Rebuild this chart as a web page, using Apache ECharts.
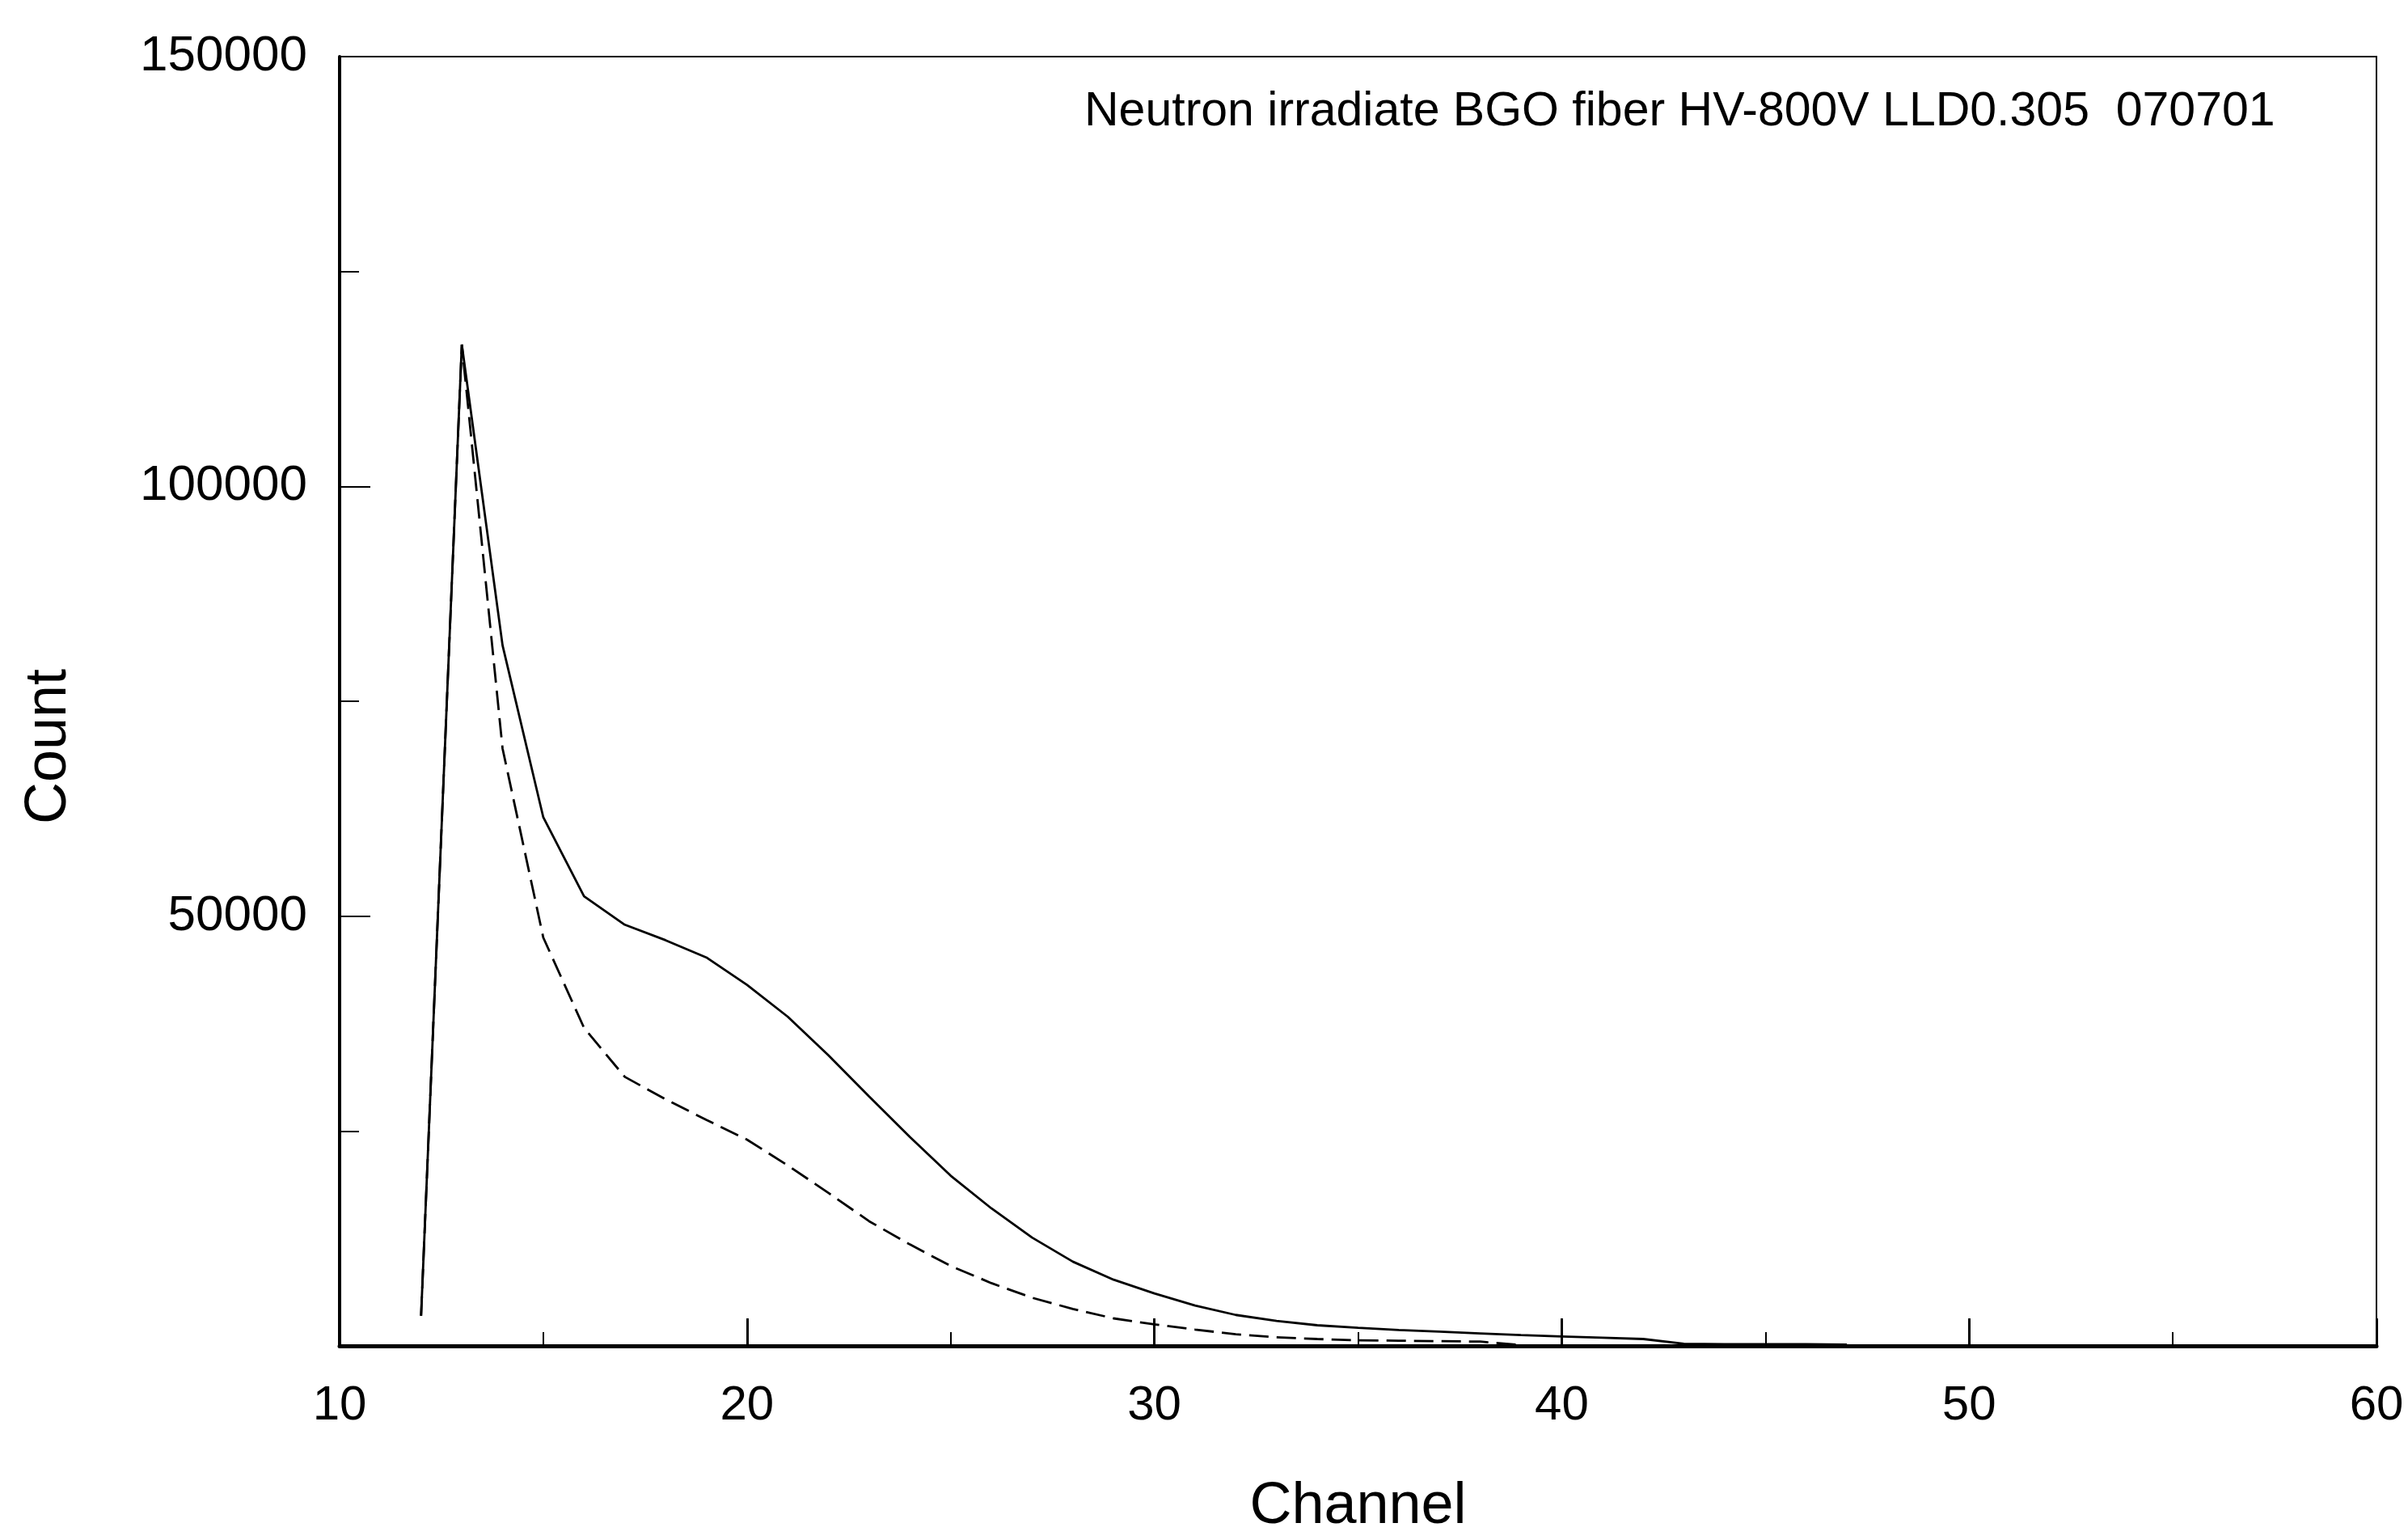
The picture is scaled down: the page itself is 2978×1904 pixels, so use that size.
<!DOCTYPE html>
<html>
<head>
<meta charset="utf-8">
<title>Neutron irradiate BGO fiber</title>
<script src="https://cdn.jsdelivr.net/npm/echarts@6/dist/echarts.min.js"></script>
<style>
  html, body { margin: 0; padding: 0; background: #fff; }
  #chart { width: 2978px; height: 1904px; }
</style>
</head>
<body>
<div id="chart"></div>
<script>
// values (channel -> count)
const channels = [12, 13, 14, 15, 16, 17, 18, 19, 20, 21, 22, 23, 24, 25, 26, 27, 28, 29,
  30, 31, 32, 33, 34, 35, 36, 37, 38, 39, 40, 41, 42, 43, 44, 45, 46, 47];
// solid curve (upper)
const countSolid = [3500, 116500, 81500, 61500, 52300, 49000, 47200, 45200, 42000, 38300,
  33800, 29000, 24300, 19800, 16000, 12600, 9800, 7700, 6100, 4700, 3600, 2900, 2400, 2100,
  1850, 1650, 1450, 1250, 1100, 950, 800, 250, 200, 200, 200, 150];
// dashed curve (lower), same channels from 12 on
const countDashed = [3500, 116500, 69500, 47500, 37000, 31300, 28700, 26300, 24000, 21000,
  17800, 14500, 11800, 9300, 7300, 5600, 4300, 3200, 2500, 1900, 1350, 1000, 800, 650,
  600, 550, 500, 100];

const xRange = [10, 60];
const yRange = [0, 150000];
const note = 'Neutron irradiate BGO fiber HV-800V LLD0.305  070701';

const font = 'Liberation Sans, Arial, sans-serif';

const toPairs = function (counts) {
  return counts.map(function (v, i) { return [channels[i], v]; });
};

const chart = echarts.init(document.getElementById('chart'));

const option = {
  animation: false,
  backgroundColor: '#fff',
  title: {
    text: note,
    left: 1336,
    top: 104,
    textStyle: { fontFamily: font, fontSize: 59, fontWeight: 'normal', color: '#000' }
  },
  grid: {
    left: 420, right: 39, top: 70, bottom: 227,
    show: true, borderColor: '#000', borderWidth: 2
  },
  xAxis: {
    type: 'value',
    min: xRange[0], max: xRange[1], interval: 10,
    name: 'Channel',
    nameLocation: 'middle',
    nameGap: 163,
    nameTextStyle: { fontFamily: font, fontSize: 72, color: '#000' },
    axisLine: { onZero: false, lineStyle: { color: '#000', width: 5 } },
    axisTick: { inside: true, length: 34, lineStyle: { color: '#000', width: 3 } },
    minorTick: { show: true, splitNumber: 2, length: 17, lineStyle: { color: '#000', width: 2 } },
    splitLine: { show: false },
    axisLabel: { fontFamily: font, fontSize: 60, color: '#000', margin: 44 }
  },
  yAxis: {
    type: 'value',
    min: yRange[0], max: yRange[1], interval: 50000,
    name: 'Count',
    nameLocation: 'middle',
    nameGap: 323,
    nameRotate: 90,
    nameTextStyle: { fontFamily: font, fontSize: 72, color: '#000', padding: [0, 112, 0, 0] },
    axisLine: { onZero: false, lineStyle: { color: '#000', width: 4 } },
    axisTick: { inside: true, length: 38, lineStyle: { color: '#000', width: 2 } },
    minorTick: { show: true, splitNumber: 2, length: 24, lineStyle: { color: '#000', width: 2 } },
    splitLine: { show: false },
    axisLabel: {
      fontFamily: font, fontSize: 62, color: '#000', margin: 40,
      formatter: function (v) { return v === 0 ? '' : String(v); }
    }
  },
  series: [
    {
      type: 'line',
      data: toPairs(countSolid),
      symbol: 'none',
      lineStyle: { color: '#000', width: 2.8 },
      z: 3
    },
    {
      type: 'line',
      data: toPairs(countDashed),
      symbol: 'none',
      lineStyle: { color: '#000', width: 2.8, type: [24, 10] },
      z: 3
    }
  ]
};

chart.setOption(option);
</script>
</body>
</html>
